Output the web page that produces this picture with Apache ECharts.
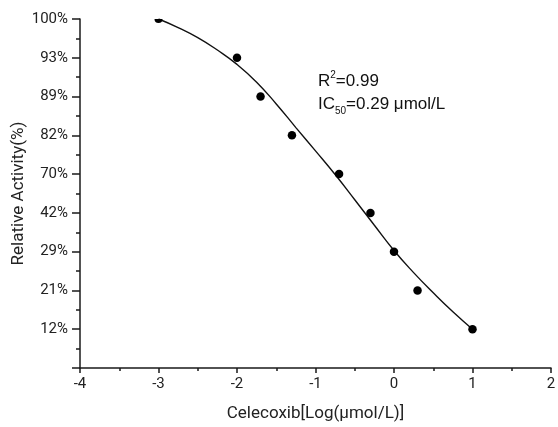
<!DOCTYPE html>
<html>
<head>
<meta charset="utf-8">
<script src="https://cdn.jsdelivr.net/npm/echarts@6/dist/echarts.min.js"></script>
<style>html,body{margin:0;padding:0;background:#fff}#c{width:558px;height:427px}</style>
</head>
<body>
<div id="c"></div>
<script>
// y tick labels (evenly spaced positions 1..9 on the axis)
var yTickLabels = ['12%', '21%', '29%', '42%', '70%', '82%', '89%', '93%', '100%'];
// measured points: log concentration and relative activity label
var pointX = [-3, -2, -1.7, -1.3, -0.7, -0.3, 0, 0.3, 1];
var pointActivity = ['100%', '93%', '89%', '82%', '70%', '42%', '29%', '21%', '12%'];
// fitted curve (y in axis position units)
var curveX = [-3, -2.75, -2.5, -2.25, -2, -1.75, -1.5, -1.25, -1, -0.75, -0.5, -0.25, 0, 0.25, 0.5, 0.75, 1];
var curveY = [9.0, 8.78, 8.52, 8.20, 7.83, 7.37, 6.81, 6.20, 5.60, 4.99, 4.34, 3.68, 3.03, 2.46, 1.94, 1.45, 1.0];

var scatterData = pointX.map(function (x, i) {
  var pos = yTickLabels.indexOf(pointActivity[i]) + 1;
  var d = { value: [x, pos] };
  if (pos === yTickLabels.length) {
    d.symbol = 'path://M0,0 A5,5 0 0 0 10,0 Z';
    d.symbolSize = [8, 4];
    d.symbolOffset = [0, 2];
  }
  return d;
});
var lineData = curveX.map(function (x, i) { return [x, curveY[i]]; });

var chart = echarts.init(document.getElementById('c'));
var axisColor = '#1a1a1a';
var textColor = '#222';
chart.setOption({
  animation: false,
  backgroundColor: '#fff',
  grid: { left: 80, right: 7, top: 19, bottom: 59, containLabel: false, outerBoundsMode: 'none' },
  xAxis: {
    type: 'value', min: -4, max: 2, interval: 1,
    name: 'Celecoxib[Log(\u03bcmol/L)]', nameLocation: 'middle', nameGap: 37, nameMoveOverlap: false,
    nameTextStyle: { fontFamily: 'Roboto', fontSize: 17, color: textColor },
    axisLine: { show: true, onZero: false, lineStyle: { color: axisColor, width: 1.5 } },
    axisTick: { show: true, length: 5, lineStyle: { color: axisColor, width: 1.5 } },
    minorTick: { show: true, splitNumber: 2, length: 3, lineStyle: { color: axisColor, width: 1.5 } },
    axisLabel: { margin: 9, fontFamily: 'Roboto', fontSize: 15, color: textColor },
    splitLine: { show: false }
  },
  yAxis: {
    type: 'value', min: 0, max: 9, interval: 1,
    name: 'Relative Activity(%)', nameLocation: 'middle', nameGap: 53, nameMoveOverlap: false,
    nameTextStyle: { fontFamily: 'Roboto', fontSize: 17, color: textColor },
    axisLine: { show: true, onZero: false, lineStyle: { color: axisColor, width: 1.5 } },
    axisTick: { show: true, length: 8, lineStyle: { color: axisColor, width: 1.5 } },
    minorTick: { show: true, splitNumber: 2, length: 4, lineStyle: { color: axisColor, width: 1.5 } },
    axisLabel: {
      margin: 12, fontFamily: 'Roboto', fontSize: 15, color: textColor,
      formatter: function (v) { return v === 0 ? '' : (yTickLabels[v - 1] || ''); }
    },
    splitLine: { show: false }
  },
  graphic: [{
    type: 'text', left: 318, top: 70,
    style: {
      text: 'R{sup|2}=0.99\nIC{sub|50}=0.29 \u03bcmol/L',
      fontFamily: 'Liberation Sans', fontSize: 17, fill: '#111', lineHeight: 23,
      rich: {
        sup: { fontSize: 10, fontFamily: 'Liberation Sans', fill: '#111', verticalAlign: 'top', lineHeight: 23, padding: [0, 0, 9, 0] },
        sub: { fontSize: 10, fontFamily: 'Liberation Sans', fill: '#111', verticalAlign: 'bottom', lineHeight: 23, padding: [8, 0, 0, 0] }
      }
    }
  }],
  series: [{
    type: 'line', data: lineData, smooth: 0.5, showSymbol: false, symbol: 'none',
    lineStyle: { color: '#111', width: 1.4 }, z: 2
  }, {
    type: 'scatter', data: scatterData, symbolSize: 8.5,
    itemStyle: { color: '#000', opacity: 1 }, z: 3
  }]
});
</script>
</body>
</html>
